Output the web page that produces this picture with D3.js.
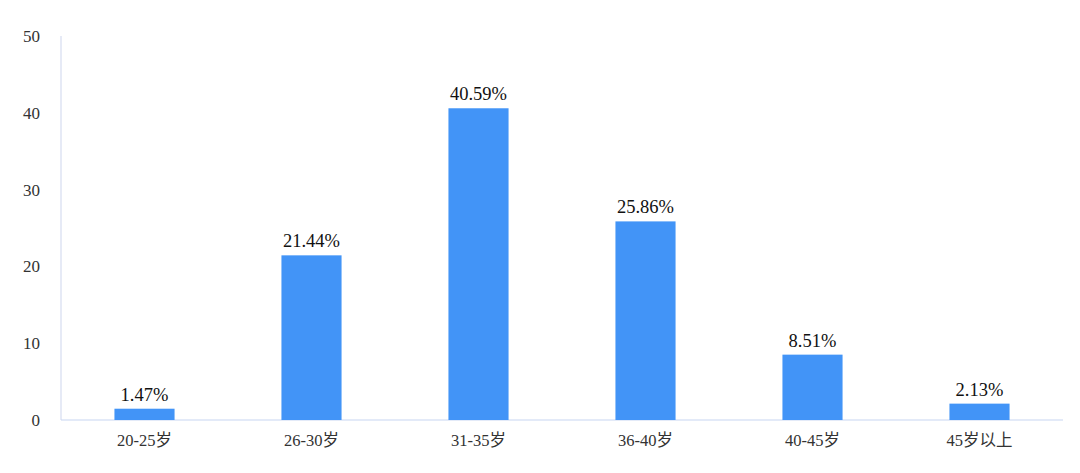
<!DOCTYPE html>
<html><head><meta charset="utf-8">
<script src="https://cdn.jsdelivr.net/npm/d3@7"></script>
<style>body{margin:0;background:#fff;} svg{display:block;} text{font-family:"Liberation Serif","Times New Roman","DejaVu Serif","Noto Sans CJK SC",serif;}</style>
</head><body>
<svg id="c" width="1080" height="473"></svg>
<script>
const categories = ["20-25岁","26-30岁","31-35岁","36-40岁","40-45岁","45岁以上"];
const values = [1.47, 21.44, 40.59, 25.86, 8.51, 2.13];
const labels = ["1.47%","21.44%","40.59%","25.86%","8.51%","2.13%"];
const yTicks = [0,10,20,30,40,50];

const svg = d3.select("#c");
const m = {left:61, right:1063, top:36, bottom:420};
const x = d3.scaleBand().domain(categories).range([m.left, m.right]).paddingInner(0.64).paddingOuter(0.32);
const y = d3.scaleLinear().domain([0,50]).range([m.bottom, m.top]);

// axis lines
svg.append("line").attr("x1",m.left).attr("x2",m.left).attr("y1",y(50)).attr("y2",y(0))
  .attr("stroke","#d6dcf0").attr("stroke-width",1.2);
svg.append("line").attr("x1",m.left).attr("x2",m.right).attr("y1",y(0)).attr("y2",y(0))
  .attr("stroke","#c8d6f2").attr("stroke-width",1.2);

// y tick labels
svg.append("g").selectAll("text").data(yTicks).join("text")
  .attr("x",40).attr("y",d=>y(d)+6).attr("text-anchor","end")
  .attr("font-size",17).attr("fill","#333").text(d=>d);

// bars
svg.append("g").selectAll("rect").data(values).join("rect")
  .attr("x",(d,i)=>x(categories[i])).attr("width",x.bandwidth())
  .attr("y",d=>y(d)).attr("height",d=>y(0)-y(d)).attr("fill","#4294f7");

// value labels
svg.append("g").selectAll("text").data(values).join("text")
  .attr("x",(d,i)=>x(categories[i])+x.bandwidth()/2).attr("y",d=>y(d)-8)
  .attr("text-anchor","middle").attr("font-size",18.5).attr("fill","#111")
  .text((d,i)=>labels[i]);

// x labels
svg.append("g").selectAll("text").data(categories).join("text")
  .attr("x",d=>x(d)+x.bandwidth()/2).attr("y",y(0)+26)
  .attr("text-anchor","middle").attr("font-size",16.5).attr("fill","#333")
  .text(d=>d);
</script>
</body></html>
